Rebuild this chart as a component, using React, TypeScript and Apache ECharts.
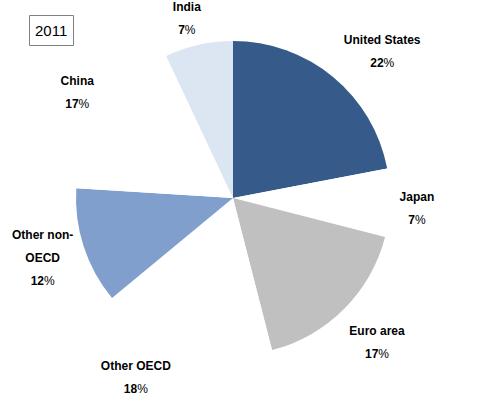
import React, { useEffect, useRef } from "react";
import * as echarts from "echarts";

const categories = ["United States", "Japan", "Euro area", "Other OECD", "Other non-OECD", "China", "India"];
const shares = [22, 7, 17, 18, 12, 17, 7];
const sliceColors = ["#365b8a", "#ffffff", "#c0c0c0", "#ffffff", "#809fcd", "#ffffff", "#dce6f2"];
const labelShift = [
  [23, 6],
  [-14, 4],
  [4, 4],
  [-36, -9],
  [-2, -1],
  [8, 6],
  [-3, 14],
];
const yearLabel = "2011";

export default function App() {
  const ref = useRef<HTMLDivElement>(null);
  useEffect(() => {
    document.body.style.margin = "0";
    const chart = echarts.init(ref.current!, null, { renderer: "svg" });
    const data = categories.map((c, i) => ({ name: c, value: shares[i], itemStyle: { color: sliceColors[i] } }));
    chart.setOption({
      animation: false,
      title: {
        text: yearLabel,
        left: 29,
        top: 15,
        padding: [8, 6, 8, 6],
        borderColor: "#808080",
        borderWidth: 1,
        textStyle: { fontFamily: "Liberation Sans, Arial, sans-serif", fontSize: 15, fontWeight: "normal", color: "#000" },
      },
      series: [
        {
          type: "pie",
          center: [233, 198],
          radius: [0, 157],
          startAngle: 90,
          clockwise: true,
          silent: true,
          label: { show: false },
          labelLine: { show: false },
          itemStyle: { borderWidth: 0 },
          data,
        },
        {
          type: "pie",
          center: [233, 198],
          radius: [0, 390],
          startAngle: 90,
          clockwise: true,
          silent: true,
          avoidLabelOverlap: false,
          z: 1,
          itemStyle: { color: "rgba(0,0,0,0)", borderWidth: 0 },
          labelLine: { show: false },
          label: {
            show: true,
            position: "inside",
            align: "center",
            fontFamily: "Liberation Sans, Arial, sans-serif",
            formatter: (p: any) => {
              const nm = String(p.name).replace("non-", "non-\n").split("\n").map((s: string) => `{n|${s}}`).join("\n");
              return `${nm}\n{v|${p.value}}{p|%}`;
            },
            rich: {
              n: { fontSize: 12, fontWeight: "bold", color: "#000", lineHeight: 23, fontFamily: "Liberation Sans, Arial, sans-serif" },
              v: { fontSize: 12, fontWeight: "bold", color: "#000", lineHeight: 23, fontFamily: "Liberation Sans, Arial, sans-serif" },
              p: { fontSize: 12, fontWeight: "normal", color: "#000", lineHeight: 23, fontFamily: "Liberation Sans, Arial, sans-serif" },
            },
          },
          labelLayout: (params: any) => ({ dx: labelShift[params.dataIndex][0], dy: labelShift[params.dataIndex][1] }),
          data: categories.map((c, i) => ({ name: c, value: shares[i] })),
        },
      ],
    });
    return () => chart.dispose();
  }, []);
  return <div ref={ref} style={{ width: 480, height: 396 }} />;
}
